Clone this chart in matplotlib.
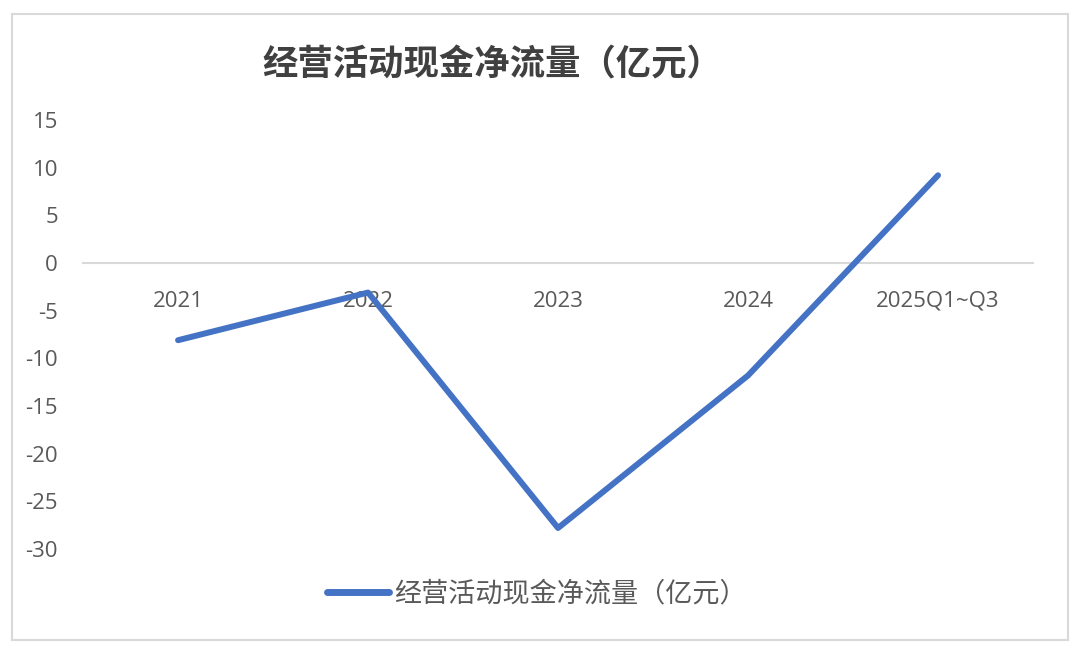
import matplotlib
matplotlib.use("Agg")
import matplotlib.pyplot as plt
from matplotlib.patches import Rectangle

plt.rcParams["font.family"] = ["Noto Sans CJK SC", "DejaVu Sans"]
plt.rcParams["axes.unicode_minus"] = False

categories = ["2021", "2022", "2023", "2024", "2025Q1~Q3"]
cash_flow = [-8.1, -3.1, -27.8, -11.8, 9.2]
series_name = "经营活动现金净流量（亿元）"
title = "经营活动现金净流量（亿元）"
y_ticks = [15, 10, 5, 0, -5, -10, -15, -20, -25, -30]

LINE_COLOR = "#4472C4"
TEXT_COLOR = "#595959"
GRID_COLOR = "#d9d9d9"

fig = plt.figure(figsize=(10.8, 6.54), dpi=100)
ax = fig.add_axes([0.0769, 0.1606, 0.8796, 0.6559])

x = list(range(len(categories)))
ax.plot(x, cash_flow, color=LINE_COLOR, linewidth=4.3,
        solid_joinstyle="round", solid_capstyle="round", label=series_name)

ax.set_xlim(-0.5, len(categories) - 0.5)
ax.set_ylim(min(y_ticks), max(y_ticks))
ax.set_yticks(y_ticks)
ax.set_xticks(x)
ax.set_xticklabels(categories)

for side in ("top", "right", "left"):
    ax.spines[side].set_visible(False)
ax.spines["bottom"].set_position(("data", 0))
ax.spines["bottom"].set_color(GRID_COLOR)
ax.spines["bottom"].set_linewidth(1.5)
ax.spines["bottom"].set_zorder(0)

ax.tick_params(axis="x", length=0, pad=20, labelsize=16, labelcolor=TEXT_COLOR)
ax.tick_params(axis="y", length=0, pad=18, labelsize=16, labelcolor=TEXT_COLOR)
for lab in ax.get_xticklabels() + ax.get_yticklabels():
    lab.set_family(["Open Sans", "DejaVu Sans"])

fig.text(0.456, 0.90, title, ha="center", va="center", fontsize=25.5,
         fontweight="bold", color="#404040")

leg = fig.legend(loc="center", bbox_to_anchor=(0.497, 0.092), frameon=False,
                 fontsize=19.5, handlelength=2.3, handletextpad=0.2)
for t in leg.get_texts():
    t.set_color(TEXT_COLOR)
for h in leg.get_lines():
    h.set_linewidth(5)

fig.patches.append(Rectangle((12 / 1080, 1 - 640 / 654), 1056 / 1080, 626 / 654,
                             transform=fig.transFigure, fill=False,
                             edgecolor=GRID_COLOR, linewidth=1.5))

fig.savefig("out.png", dpi=100, facecolor="white")
